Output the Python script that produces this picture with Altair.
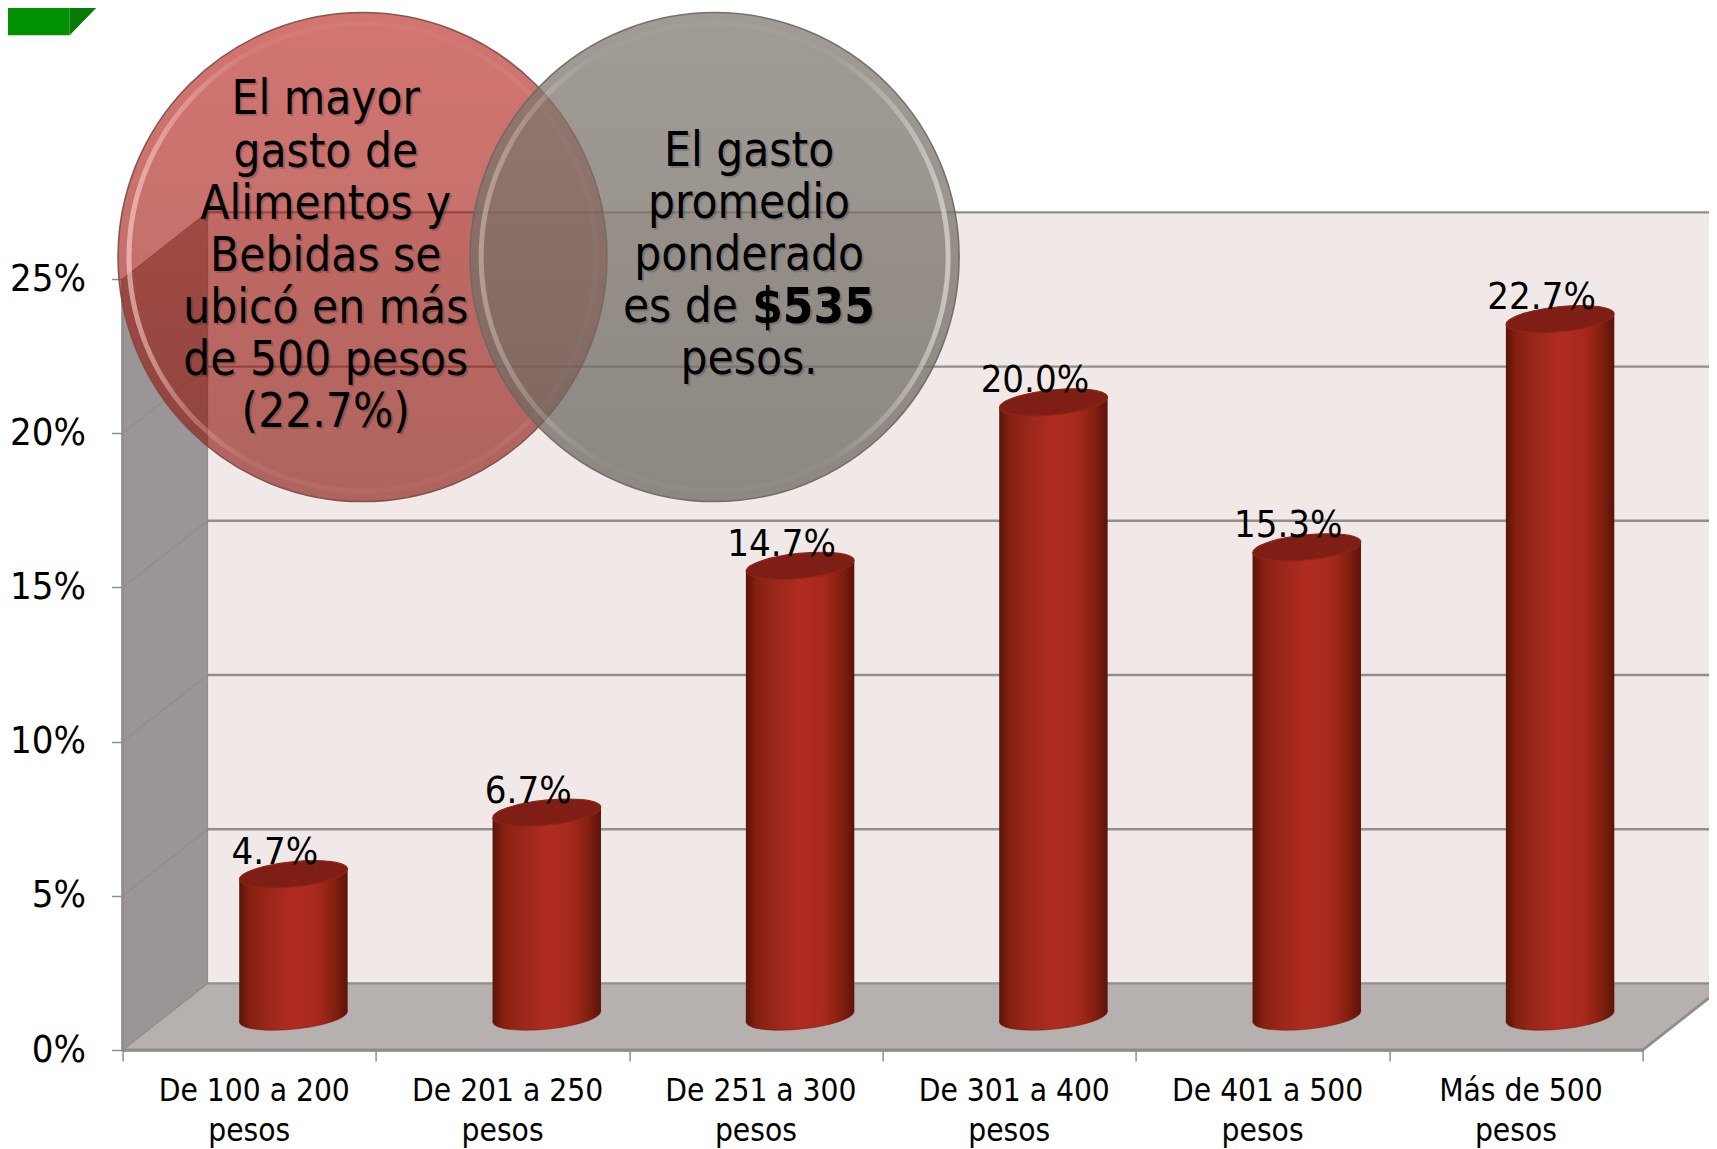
import altair as alt
import pandas as pd

# ---- chart values ----
categories = ["De 100 a 200", "De 201 a 250", "De 251 a 300", "De 301 a 400", "De 401 a 500", "Más de 500"]
values = [4.7, 6.7, 14.7, 20.0, 15.3, 22.7]
value_labels = ["4.7%", "6.7%", "14.7%", "20.0%", "15.3%", "22.7%"]
y_ticks = [0, 5, 10, 15, 20, 25]
red_lines = ["El mayor", "gasto de", "Alimentos y", "Bebidas se", "ubicó en más", "de 500 pesos", "(22.7%)"]
gray_lines = ["El gasto", "promedio", "ponderado", "", "pesos."]

FONT = "DejaVu Sans Condensed"
DX, DY = 0.3356, 2.16      # 3-D depth of the box, in scale units
BW = 0.428                 # cylinder width
TILT = 0.18
LINE_H = 1.69              # callout line height, in % units

xs = alt.Scale(domain=[0, 6], nice=False, zero=False)
ys = alt.Scale(domain=[0, 25], nice=False, zero=False)
x_axis = alt.Axis(values=list(range(7)), labels=False, tickSize=11, tickColor="#8e8e8e", tickWidth=1.5,
                  domainColor="#8e8e8e", domainWidth=2.5, grid=False, title=None)
y_axis = alt.Axis(values=y_ticks, labelExpr="datum.value + '%'", tickSize=11, tickColor="#8e8e8e", tickWidth=1.5,
                  domainColor="#8e8e8e", domainWidth=2.5, grid=False, labelFont=FONT, labelFontSize=38,
                  labelColor="#000000", labelPadding=26, title=None)
def X(f="x", **k): return alt.X(f"{f}:Q", scale=xs, axis=x_axis, **k)
def Y(f="y", **k): return alt.Y(f"{f}:Q", scale=ys, axis=y_axis, **k)
def grad(stops, horiz=True):
    return alt.LinearGradient(gradient="linear", x1=0, y1=0, x2=1 if horiz else 0, y2=0 if horiz else 1,
                              stops=[alt.GradientStop(offset=o, color=c) for o, c in stops])

layers = []

# back wall
wall = pd.DataFrame({"x": [DX, 6 + DX + 0.2], "y": [25 + DY] * 2, "y2": [DY] * 2})
layers.append(alt.Chart(wall).mark_area(color="#f1e9e8").encode(x=X(), y=Y(), y2="y2:Q"))
# side wall
side = pd.DataFrame({"x": [0, DX], "y": [25, 25 + DY], "y2": [0, DY]})
layers.append(alt.Chart(side).mark_area(color="#9b9695").encode(x=X(), y=Y(), y2="y2:Q"))
# floor
floor = pd.DataFrame({"x": [0, DX, 6, 6 + DX], "y": [0, DY, DY, DY], "y2": [0, 0, 0, DY]})
layers.append(alt.Chart(floor).mark_area(color="#b6b1ae").encode(x=X(), y=Y(), y2="y2:Q"))

# grid lines on walls
grid = pd.DataFrame({"x": [DX] * 6, "x2": [6 + DX + 0.2] * 6, "y": [t + DY for t in y_ticks]})
layers.append(alt.Chart(grid).mark_rule(color="#8f8f8c", strokeWidth=2.4).encode(x=X(), x2="x2:Q", y=Y()))
diag = pd.DataFrame({"t": [t for t in y_ticks for _ in (0, 1)],
                     "x": [0, DX] * 6, "y": [t + d for t in y_ticks for d in (0, DY)]})
layers.append(alt.Chart(diag).mark_line(color="#8a8f8a", strokeWidth=1.3).encode(x=X(), y=Y(), detail="t:N"))
wall_edge = pd.DataFrame({"x": [DX, DX], "y": [DY, 25 + DY]})
layers.append(alt.Chart(wall_edge).mark_line(color="#8a8a88", strokeWidth=1).encode(x=X(), y=Y()))
front = pd.DataFrame({"o": [0, 1, 2, 3], "x": [0, 0, 6, 6 + DX], "y": [25, 0, 0, DY]})
layers.append(alt.Chart(front).mark_line(color="#8e8e8e", strokeWidth=2.8).encode(x=X(), y=Y(), order="o:Q"))

# cylinders
centers = [i + 0.5 + DX / 2 + 0.0065 for i in range(6)]
TOP_SHIFT = 0.08
body_stops = [(0, "#5a140c"), (0.1, "#86200f"), (0.25, "#98261a"), (0.5, "#b12c20"), (0.72, "#a7291d"),
              (0.88, "#84200f"), (1, "#5c120a")]
rows = []
for i, (c, v) in enumerate(zip(centers, values)):
    rows.append({"b": i, "x": c - BW / 2, "y": v + DY / 2 - TILT - TOP_SHIFT, "y2": DY / 2 - TILT})
    rows.append({"b": i, "x": c + BW / 2, "y": v + DY / 2 + TILT - TOP_SHIFT, "y2": DY / 2 + TILT})
ELL = "M-0.995,0.101A1,0.229,-5.8,1,1,0.995,-0.101A1,0.229,-5.8,1,1,-0.995,0.101Z"
SIZE = (BW * 1520 / 6) ** 2
bases = pd.DataFrame({"x": centers, "y": [DY / 2] * 6})
layers.append(alt.Chart(bases).mark_point(shape=ELL, filled=True, size=SIZE, opacity=1, fill=grad(body_stops),
                                          stroke="#7d160e", strokeWidth=0.6).encode(x=X(), y=Y()))
layers.append(alt.Chart(pd.DataFrame(rows)).mark_area(fill=grad(body_stops), opacity=1).encode(
    x=X(), y=Y(), y2="y2:Q", detail="b:N"))
tops = pd.DataFrame({"x": centers, "y": [v + DY / 2 - TOP_SHIFT for v in values], "label": value_labels})
layers.append(alt.Chart(tops).mark_point(shape=ELL, filled=True, size=SIZE, opacity=1, fill="#7f1e14",
                                         stroke="#902418", strokeWidth=1.2).encode(x=X(), y=Y()))
layers.append(alt.Chart(tops).mark_text(font=FONT, fontSize=38, color="#000000", dx=-18.5, dy=-21).encode(
    x=X(), y=Y(), text="label:N"))

# category labels
cat = pd.DataFrame({"x": [i + 0.5 for i in range(6)], "y": [0] * 6, "a": categories, "b": ["pesos"] * 6})
layers.append(alt.Chart(cat).mark_text(font=FONT, fontSize=31.4, color="#000000", dx=5, dy=42).encode(
    x=X(), y=Y(), text="a:N"))
layers.append(alt.Chart(cat).mark_text(font=FONT, fontSize=31.4, color="#000000", dx=0, dy=82).encode(
    x=X(), y=Y(), text="b:N"))

# green corner block
layers.append(alt.Chart(pd.DataFrame({"x": [-0.52], "x2": [-0.209], "y": [34.2], "y2": [32.9]})).mark_rect(
    color="#009000").encode(x=X(), x2="x2:Q", y=Y(), y2="y2:Q"))
layers.append(alt.Chart(pd.DataFrame({"x": [-0.209, -0.097], "y": [34.2, 34.2], "y2": [32.9, 33.85]})).mark_area(
    color="#077a07").encode(x=X(), y=Y(), y2="y2:Q"))

# callout circles
R = 244.5
red_c = pd.DataFrame({"x": [0.947], "y": [25.71]})
gray_c = pd.DataFrame({"x": [2.337], "y": [25.71]})
def bubble(df, stops, edge, ring_stops, fo):
    base = alt.Chart(df)
    return [
        base.mark_point(shape="circle", filled=True, size=(2 * R) ** 2, opacity=1, fill=grad(stops, horiz=False),
                        fillOpacity=fo, stroke=edge, strokeWidth=1.5, strokeOpacity=0.9).encode(x=X(), y=Y()),
        base.mark_point(shape="circle", filled=False, size=(2 * (R - 11)) ** 2, opacity=1, stroke=grad(ring_stops),
                        strokeWidth=5).encode(x=X(), y=Y()),
    ]
layers += bubble(red_c, [(0, "#b8201a"), (1, "#86120a")], "#7a4a45",
                 [(0, "rgba(255,215,210,0.6)"), (0.25, "rgba(255,210,205,0.08)"), (0.7, "rgba(255,210,205,0.03)"),
                  (1, "rgba(255,210,205,0.15)")], 0.62)
layers += bubble(gray_c, [(0, "#807970"), (1, "#6c6760")], "#6b675f",
                 [(0, "rgba(255,245,235,0.35)"), (0.25, "rgba(255,245,235,0.03)"), (0.75, "rgba(255,245,235,0.03)"),
                  (1, "rgba(255,250,245,0.5)")], 0.75)

# callout text
RED_X, GRAY_X = 0.802, 2.473
RED_TOP, GRAY_TOP = 30.79, 29.12
red_t = pd.DataFrame({"x": [RED_X] * 7, "y": [RED_TOP - i * LINE_H for i in range(7)], "t": red_lines})
gray_rows = [{"x": GRAY_X, "y": GRAY_TOP - i * LINE_H, "t": s} for i, s in enumerate(gray_lines) if s]
gray_t = pd.DataFrame(gray_rows)
line3 = GRAY_TOP - 3 * LINE_H
es = pd.DataFrame({"x": [1.975], "y": [line3], "t": ["es de"]})
bold = pd.DataFrame({"x": [2.485], "y": [line3], "t": ["$535"]})
def txt(df, align="center", weight="normal", size=47.3):
    out = []
    for dx, dy, op in [(2, 2, 0.17), (0, 0, 1)]:
        out.append(alt.Chart(df).mark_text(font=FONT, fontSize=size, color="#000000", opacity=op, dx=dx, dy=dy,
                                           align=align, fontWeight=weight).encode(x=X(), y=Y(), text="t:N"))
    return out
layers += txt(red_t) + txt(gray_t) + txt(es, "left") + txt(bold, "left", "bold", 49)

chart = alt.layer(*layers).properties(
    width=1520, height=771,
    padding={"left": 114.6, "top": 271, "right": 66.4, "bottom": 99},
    autosize=alt.AutoSizeParams(type="none"),
    background="white",
).configure_view(stroke=None)

chart.save("out.html", embed_options={"renderer": "svg", "actions": False})
